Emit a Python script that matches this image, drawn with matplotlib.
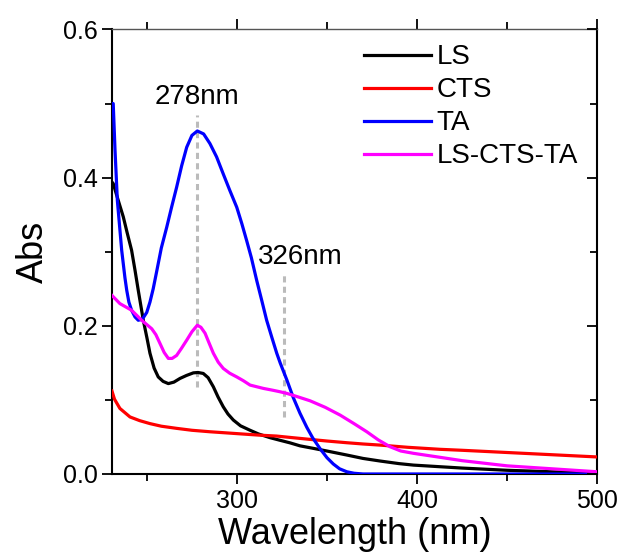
import matplotlib
matplotlib.use("Agg")
import matplotlib.pyplot as plt
from matplotlib.ticker import MultipleLocator

plt.rcParams['font.family'] = ['Liberation Sans', 'DejaVu Sans']

# values
ls_x = [230.6, 231.3, 234, 236.9, 239, 241.5, 243.4, 245.2, 248, 250, 251.7, 254, 256.3,
        259, 261.9, 265, 268.4, 272, 275.8, 278.4, 281.3, 284, 286.9, 289.5, 292.4,
        295, 298, 302, 307.3, 312, 318.4, 323.9, 329.5, 335, 342.4, 350, 361, 370,
        379.5, 390, 398, 412.8, 425, 450, 475, 500]
ls_y = [0.394, 0.392, 0.37, 0.347, 0.326, 0.302, 0.275, 0.248, 0.2075, 0.184, 0.163, 0.143, 0.131,
        0.125, 0.122, 0.124, 0.129, 0.133, 0.1365, 0.137, 0.1357, 0.13, 0.1177, 0.104, 0.0907,
        0.081, 0.0728, 0.065, 0.059, 0.054, 0.049, 0.0455, 0.042, 0.038, 0.0346, 0.031, 0.0256, 0.021,
        0.0175, 0.014, 0.012, 0.0098, 0.008, 0.005, 0.003, 0.001]

cts_x = [230.6, 232, 235, 240.6, 246, 251.7, 258, 266.5, 275, 285, 294, 303.5, 312,
         322, 331, 340.6, 350, 361, 370, 379.5, 395, 412.8, 425, 450, 475, 500]
cts_y = [0.112, 0.101, 0.0885, 0.077, 0.072, 0.068, 0.0645, 0.0616, 0.059, 0.057, 0.0555, 0.0539, 0.0525,
         0.0512, 0.049, 0.0467, 0.0445, 0.0422, 0.0405, 0.039, 0.036, 0.0333, 0.032, 0.029, 0.026, 0.023]

ta_x = [230.6, 231.3, 232.3, 233.6, 235, 236, 237.8, 238.8, 240, 241.5, 243.4, 245.2,
        247.5, 249.9, 251.7, 253.5, 255.4, 258, 261, 263.7, 266.5, 269.3, 272.1, 275,
        278, 281.5, 285, 288.7, 292.4, 296, 299.9, 302.7, 305.4, 308, 311, 313.8,
        316.5, 319.3, 322.1, 324, 327.7, 331.3, 335, 338.8, 342, 346.2, 350, 353.5,
        357, 361, 365, 370, 400, 450, 500]
ta_y = [0.5, 0.5, 0.437, 0.369, 0.33, 0.302, 0.265, 0.248, 0.232, 0.221, 0.212, 0.2075,
        0.209, 0.218, 0.232, 0.25, 0.273, 0.305, 0.333, 0.36, 0.387, 0.416, 0.441, 0.457,
        0.463, 0.459, 0.446, 0.428, 0.405, 0.383, 0.36, 0.338, 0.315, 0.292, 0.261, 0.234,
        0.2075, 0.185, 0.163, 0.15, 0.127, 0.103, 0.082, 0.063, 0.049, 0.034, 0.022, 0.0135,
        0.007, 0.003, 0.001, 0.0, 0.0, 0.0, 0.0]

mix_x = [230.6, 235, 241.5, 247.1, 252.7, 255, 257.3, 259.6, 261.9, 264, 266.5, 269.3,
         272.1, 275, 278, 280, 282.3, 284.5, 286.9, 289.6, 292.4, 296, 299.9, 303.5,
         307.3, 314.7, 320, 323.9, 327.7, 334, 340.6, 349, 357.3, 365, 372.1, 378.5,
         385, 391, 398, 412.8, 425, 450, 475, 500]
mix_y = [0.241, 0.23, 0.221, 0.2075, 0.196, 0.188, 0.176, 0.164, 0.156, 0.156, 0.16, 0.17,
         0.1806, 0.192, 0.2008, 0.198, 0.19, 0.177, 0.163, 0.151, 0.1425, 0.136, 0.131, 0.126,
         0.12, 0.1155, 0.113, 0.111, 0.1088, 0.104, 0.0988, 0.09, 0.0795, 0.068, 0.057, 0.046,
         0.0368, 0.031, 0.0279, 0.0225, 0.018, 0.011, 0.007, 0.003]

series = [
    ("LS", ls_x, ls_y, "black"),
    ("CTS", cts_x, cts_y, "#ff0000"),
    ("TA", ta_x, ta_y, "#0000ff"),
    ("LS-CTS-TA", mix_x, mix_y, "#ff00ff"),
]

peak_x = [278, 326]
peak_lo = [0.117, 0.077]
peak_hi = [0.484, 0.272]
peak_labels = ["278nm", "326nm"]
label_pos = [(278, 0.50), (335, 0.284)]

fig = plt.figure(figsize=(6.22, 5.56), dpi=100)
ax = fig.add_axes([0.180, 0.1475, 0.780, 0.7995])

for xv, lo, hi in zip(peak_x, peak_lo, peak_hi):
    ax.plot([xv, xv], [lo, hi], color="#bbbbbb", lw=2.2, ls=(0, (2.0, 1.4)), zorder=1)

for name, xs, ys, c in series:
    ax.plot(xs, ys, color=c, lw=2.3, label=name, zorder=3)

for txt, (tx, ty) in zip(peak_labels, label_pos):
    ax.text(tx, ty, txt, fontsize=20, ha="center", va="baseline")

ax.set_xlim(230.6, 500)
ax.set_ylim(0, 0.6)
ax.xaxis.set_major_locator(MultipleLocator(100))
ax.xaxis.set_minor_locator(MultipleLocator(50))
ax.yaxis.set_major_locator(MultipleLocator(0.2))
ax.yaxis.set_minor_locator(MultipleLocator(0.1))
ax.yaxis.set_major_formatter(plt.FormatStrFormatter("%.1f"))

ax.tick_params(which="both", direction="out", width=1.3, labelsize=18, top=True, right=False)
ax.tick_params(which="major", length=7)
ax.tick_params(which="minor", length=5)

for s in ["left", "bottom", "right"]:
    ax.spines[s].set_linewidth(1.5)
ax.spines["top"].set_color("#555555")
ax.spines["top"].set_linewidth(1.0)

# right-side inward ticks
ax2 = ax.twinx()
ax2.set_ylim(0, 0.6)
ax2.yaxis.set_major_locator(MultipleLocator(0.2))
ax2.yaxis.set_minor_locator(MultipleLocator(0.1))
ax2.tick_params(which="both", direction="in", width=1.3, labelright=False)
ax2.tick_params(which="major", length=7)
ax2.tick_params(which="minor", length=5)
for s in ax2.spines.values():
    s.set_visible(False)

ax.set_xlabel("Wavelength (nm)", fontsize=26, labelpad=3)
ax.set_ylabel("Abs", fontsize=26, labelpad=8)

leg = ax.legend(loc="upper right", bbox_to_anchor=(1.0, 1.01), frameon=False, fontsize=20,
                handlelength=2.4, handletextpad=0.2, labelspacing=0.25, borderaxespad=0.3)

fig.savefig("out.png", dpi=100)
